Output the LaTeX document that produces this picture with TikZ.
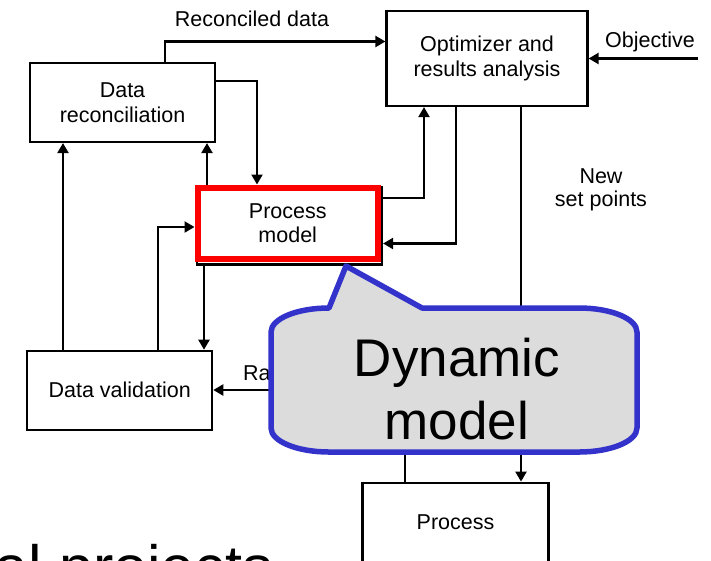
\documentclass[tikz,border=0pt]{standalone}
\usepackage{fontspec}
\setmainfont{Liberation Sans}
\usetikzlibrary{arrows.meta,calc}

\definecolor{callfill}{RGB}{220,220,220}
\definecolor{callblue}{RGB}{51,51,204}
\definecolor{pmred}{RGB}{255,0,0}

\tikzset{
  blk/.style={draw=black, line width=2.2pt, fill=white, inner sep=0pt,
              align=center, font=\fontsize{21.5}{24.5}\selectfont},
  arr/.style={line width=2.2pt, -{Triangle[length=10pt,width=11pt]}},
  lbl/.style={inner sep=0pt, align=center, font=\fontsize{21.5}{23}\selectfont},
  bigtxt/.style={inner sep=0pt, align=center, font=\fontsize{53}{63}\selectfont},
}

\begin{document}
\begin{tikzpicture}[x=1pt, y=-1pt]
\useasboundingbox (0,0) rectangle (711,560);
\clip (0,0) rectangle (711,560);

% blocks
\node[blk, minimum width=185pt, minimum height=79pt] (rec) at (122.5,102.5) {Data\\reconciliation};
\node[blk, minimum width=201pt, minimum height=95pt] (opt) at (487,58.5) {Optimizer and\\results analysis};
\node[blk, minimum width=185pt, minimum height=79pt] (val) at (119.7,390.3) {Data validation};
\node[blk, minimum width=186pt, minimum height=79pt] (proc) at (455.5,522.2) {Process};

% process model: black frame with a red highlight over it
\node[blk, minimum width=185pt, minimum height=77.5pt] (pmb) at (289.5,225.8) {};
\node[draw=pmred, line width=6pt, fill=white, inner sep=0pt, align=center,
      font=\fontsize{21.5}{24.5}\selectfont,
      minimum width=180.5pt, minimum height=71pt] (pmr) at (287.75,223) {Process\\model};

% free end of the objective input
\coordinate (objin) at (698,58.5);

% connectors
\draw[arr] (rec.north -| 165,0) |- (opt.west |- 0,41.5);
\draw[arr] (objin) -- (opt.east |- objin);
\draw[arr] (rec.east |- 0,81) -| (pmr.north -| 257,0);
\draw[arr] (pmr.north -| 207,0) -- (rec.south -| 207,0);
\draw[arr] (val.north -| 63,0) -- (rec.south -| 63,0);
\draw[arr] (val.north -| 158,0) |- (pmr.west |- 0,227);
\draw[arr] (pmb.south -| 204,0) -- (val.north -| 204,0);
\draw[arr] (pmb.east |- 0,198) -| (opt.south -| 424,0);
\draw[arr] (opt.south -| 456,0) |- (pmb.east |- 0,243.5);
\draw[arr] (opt.south -| 521,0) -- (proc.north -| 521,0);
\draw[arr] (proc.north -| 405,0) |- (val.east |- 0,390);

% connector labels
\node[lbl] (lrec) at (252,19) {Reconciled data};
\node[lbl] (lobj) at (650,42) {Objective};
\node[lbl] (lset) at (601,190) {New\\set points};
\node[lbl, anchor=base west] (lraw) at (243,380) {Raw data};

% callout
\draw[callblue, fill=callfill, line width=5.5pt, line join=round]
  (271,332) .. controls (271,318.7) and (297,308) .. (329,308)
  -- (346,266) -- (422,308) -- (579,308)
  .. controls (611,308) and (637,318.7) .. (637,332)
  -- (637,428)
  .. controls (637,441.3) and (611,452) .. (579,452)
  -- (329,452)
  .. controls (297,452) and (271,441.3) .. (271,428) -- cycle;
\node[bigtxt] (dyn) at (457,389.5) {Dynamic\\model};

% heading text running below the page edge
\node[inner sep=0pt, anchor=base east, font=\fontsize{61}{70}\selectfont] (head) at (273,588) {Industrial projects};
\end{tikzpicture}
\end{document}
